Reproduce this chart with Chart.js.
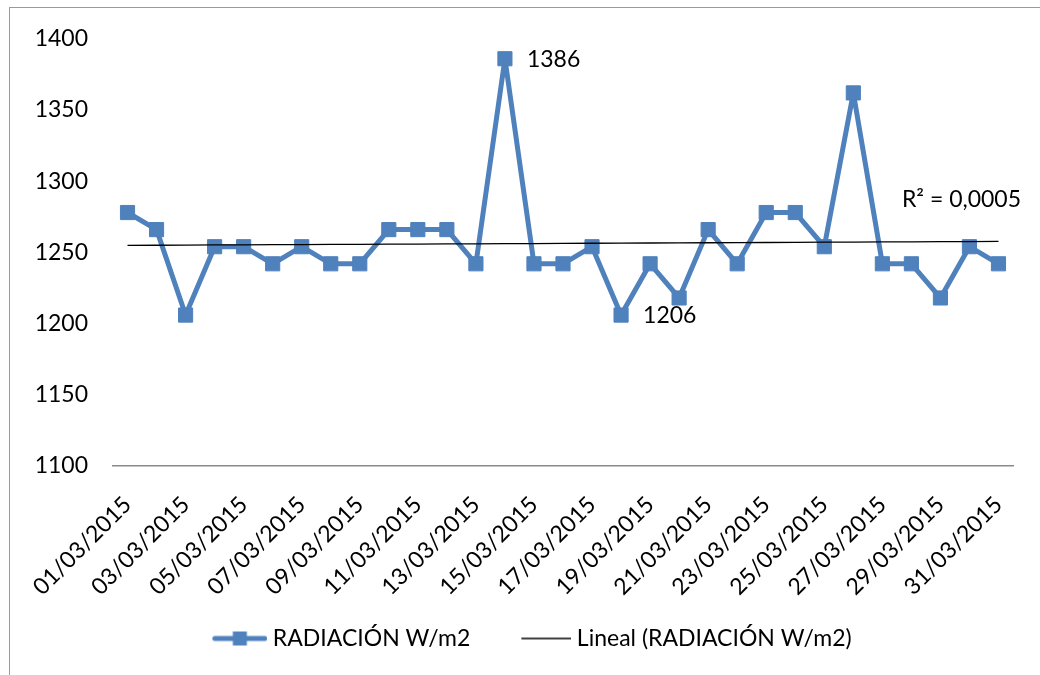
<!DOCTYPE html>
<html>
<head>
<meta charset="utf-8">
<script src="https://cdn.jsdelivr.net/npm/chart.js@4.4.0/dist/chart.umd.min.js"></script>
<style>
  html, body { margin: 0; padding: 0; background: #fff; overflow: hidden; }
  #frame { position: absolute; left: 9px; top: 7px; width: 1100px; height: 720px; border: 1px solid #9a9a9a; }
  #chart { position: absolute; left: 0; top: 0; }
</style>
</head>
<body>
<div id="frame"></div>
<canvas id="chart" width="1040" height="675"></canvas>
<script>
// ── Data ─────────────────────────────────────────────
const dates = [
  "01/03/2015", "02/03/2015", "03/03/2015", "04/03/2015", "05/03/2015", "06/03/2015",
  "07/03/2015", "08/03/2015", "09/03/2015", "10/03/2015", "11/03/2015", "12/03/2015",
  "13/03/2015", "14/03/2015", "15/03/2015", "16/03/2015", "17/03/2015", "18/03/2015",
  "19/03/2015", "20/03/2015", "21/03/2015", "22/03/2015", "23/03/2015", "24/03/2015",
  "25/03/2015", "26/03/2015", "27/03/2015", "28/03/2015", "29/03/2015", "30/03/2015",
  "31/03/2015",
];
const radiacion = [
  1278, 1266, 1206, 1254, 1254, 1242, 1254, 1242, 1242, 1266, 1266, 1266, 1242, 1386, 1242, 1242,
  1254, 1206, 1242, 1218, 1266, 1242, 1278, 1278, 1254, 1362, 1242, 1242, 1218, 1254, 1242,
];
const labelledPoints = [13, 17];   // 1386 and 1206 carry a value label
const yMin = 1100, yMax = 1400, yStep = 50;
const seriesName = "RADIACIÓN W/m2";
const trendName = "Lineal (RADIACIÓN W/m2)";
const r2Text = "R² = 0,0005";

const BLUE = "#4f81bd";
const FONT = { family: "Lato", size: 23 };

// least-squares line over x = 1..n
function linearTrend(ys) {
  const n = ys.length;
  let sx = 0, sy = 0, sxx = 0, sxy = 0;
  ys.forEach((y, i) => { const x = i + 1; sx += x; sy += y; sxx += x * x; sxy += x * y; });
  const b = (n * sxy - sx * sy) / (n * sxx - sx * sx);
  const a = (sy - b * sx) / n;
  return ys.map((_, i) => a + b * (i + 1));
}

// legend swatches: the line sits at the right end of the image so the
// blank left part gives the gap between the two legend entries
const SWATCH_BOX = 83;
function legendIcon(color, lineW, lineLen, marker) {
  const w = SWATCH_BOX + 12;
  const c = document.createElement("canvas");
  c.width = w; c.height = 18;
  const g = c.getContext("2d");
  g.strokeStyle = color;
  g.lineWidth = lineW;
  g.lineCap = marker ? "round" : "butt";
  const x0 = w - lineLen;
  g.beginPath();
  g.moveTo(x0 + (marker ? lineW / 2 : 0), 9);
  g.lineTo(w - (marker ? lineW / 2 : 0), 9);
  g.stroke();
  if (marker) {
    g.fillStyle = color;
    g.fillRect(x0 + lineLen / 2 - 7, 2, 14, 14);
  }
  return c;
}
const seriesIcon = legendIcon(BLUE, 5, 55, true);
const trendIcon = legendIcon("#000", 1.3, 50, false);

// ── Value labels + R² ────────────────────────────────
const annotations = {
  id: "annotations",
  afterLayout(chart) {
    chart.legend.left -= 9;
    chart.legend.right -= 9;
  },
  afterDatasetsDraw(chart) {
    const ctx = chart.ctx;
    const meta = chart.getDatasetMeta(0);
    ctx.save();
    ctx.font = `${FONT.size}px ${FONT.family}`;
    ctx.fillStyle = "#000";
    ctx.textBaseline = "middle";
    ctx.textAlign = "left";
    labelledPoints.forEach((i) => {
      const p = meta.data[i];
      ctx.fillText(String(radiacion[i]), p.x + 22, p.y + 1);
    });
    const tm = chart.getDatasetMeta(1);
    const last = tm.data[tm.data.length - 1];
    ctx.textAlign = "center";
    ctx.fillText(r2Text, last.x - 37, last.y - 42);
    ctx.restore();
  },
};

new Chart(document.getElementById("chart"), {
  type: "line",
  data: {
    labels: dates,
    datasets: [
      {
        label: seriesName,
        data: radiacion,
        borderColor: BLUE,
        backgroundColor: BLUE,
        borderWidth: 5,
        borderJoinStyle: "round",
        pointStyle: "rect",
        pointRadius: 10,
        pointBorderWidth: 1,
        pointBackgroundColor: BLUE,
        pointBorderColor: BLUE,
        tension: 0,
        order: 1,
      },
      {
        label: trendName,
        data: linearTrend(radiacion),
        borderColor: "#000",
        borderWidth: 1.3,
        pointRadius: 0,
        fill: false,
        order: 0,
      },
    ],
  },
  options: {
    responsive: false,
    animation: false,
    layout: { padding: { left: 35, right: 27, top: 24, bottom: 15 } },
    plugins: {
      tooltip: { enabled: false },
      legend: {
        position: "bottom",
        labels: {
          color: "#000",
          font: FONT,
          usePointStyle: true,
          pointStyleWidth: SWATCH_BOX,
          padding: 12,
          sort: (a, b) => a.datasetIndex - b.datasetIndex,
          generateLabels(chart) {
            const items = Chart.defaults.plugins.legend.labels.generateLabels(chart);
            items.forEach((it) => {
              it.pointStyle = it.datasetIndex === 0 ? seriesIcon : trendIcon;
            });
            return items;
          },
        },
      },
    },
    scales: {
      x: {
        offset: true,
        grid: { display: false, drawTicks: false },
        border: { display: true, color: "#8a8a8a", width: 1.5 },
        ticks: {
          autoSkip: false,
          minRotation: 45,
          maxRotation: 45,
          padding: 25,
          color: "#000",
          font: FONT,
          callback(v, i) { return i % 2 === 0 ? this.getLabelForValue(v) : ""; },
        },
        afterFit(scale) {
          scale.height = 149;
          scale.paddingLeft = 0;
          scale.paddingRight = 0;
        },
      },
      y: {
        min: yMin,
        max: yMax,
        grid: { display: false, drawTicks: false },
        border: { display: false },
        ticks: {
          stepSize: yStep,
          padding: 25,
          color: "#000",
          font: FONT,
          callback: (v) => String(v),
        },
        afterFit(scale) { scale.width = 78; },
      },
    },
  },
  plugins: [annotations],
});
</script>
</body>
</html>
